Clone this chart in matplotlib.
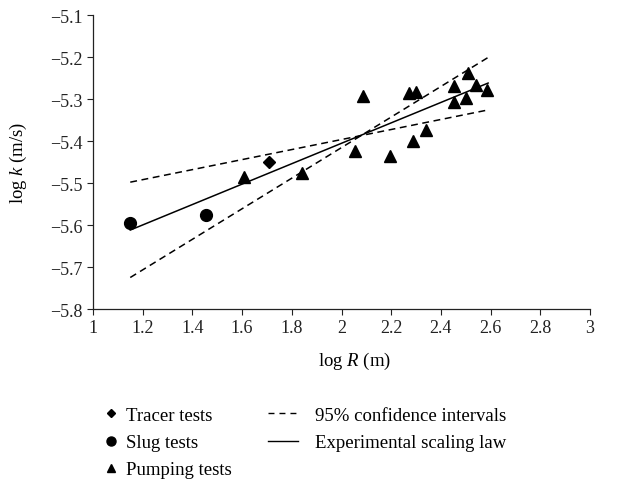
import numpy as np
import matplotlib
matplotlib.use('Agg')
import matplotlib.pyplot as plt
from matplotlib.lines import Line2D

plt.rcParams['font.family'] = 'Liberation Serif'
plt.rcParams['mathtext.fontset'] = 'custom'
plt.rcParams['mathtext.rm'] = 'Liberation Serif'
plt.rcParams['mathtext.it'] = 'Liberation Serif:italic'

# datos
tracer_x = [1.71]
tracer_y = [-5.451]

slug_x = [1.15, 1.454]
slug_y = [-5.595, -5.575]

pump_x = [1.607, 1.842, 2.055, 2.085, 2.194, 2.273, 2.289, 2.298, 2.340,
          2.452, 2.454, 2.502, 2.508, 2.540, 2.587]
pump_y = [-5.486, -5.476, -5.423, -5.292, -5.436, -5.286, -5.401, -5.283, -5.374,
          -5.306, -5.270, -5.297, -5.238, -5.266, -5.278]

line_x = [1.15, 2.59]
fit_y = [-5.612, -5.262]
ci_low_y = [-5.725, -5.201]     # la recta mas empinada
ci_high_y = [-5.498, -5.326]    # la recta mas plana

xtick_labels = ['1', '1.2', '1.4', '1.6', '1.8', '2', '2.2', '2.4', '2.6', '2.8', '3']
ytick_labels = ['\u22125.8', '\u22125.7', '\u22125.6', '\u22125.5', '\u22125.4',
                '\u22125.3', '\u22125.2', '\u22125.1']

fig = plt.figure(figsize=(6.36, 4.81), dpi=100)
ax = fig.add_axes([0.1462, 0.3555, 0.7815, 0.6112])

dash = (0, (4.5, 3))
ax.plot(line_x, ci_low_y, color='black', lw=1.1, linestyle=dash)
ax.plot(line_x, ci_high_y, color='black', lw=1.1, linestyle=dash)
ax.plot(line_x, fit_y, color='black', lw=1.1)

ax.plot(tracer_x, tracer_y, 'D', color='black', ms=6.5, ls='none')
ax.plot(slug_x, slug_y, 'o', color='black', ms=8.5, ls='none')
ax.plot(pump_x, pump_y, '^', color='black', ms=9, ls='none')

ax.set_xlim(1, 3)
ax.set_ylim(-5.8, -5.1)
ax.set_xticks(np.arange(1, 3.01, 0.2))
ax.set_xticklabels(xtick_labels)
ax.set_yticks(np.arange(-5.8, -5.09, 0.1))
ax.set_yticklabels(ytick_labels)
ax.tick_params(labelsize=13, direction='out', length=4, width=0.8, colors='#222222')
for s in ['top', 'right']:
    ax.spines[s].set_visible(False)
for s in ['left', 'bottom']:
    ax.spines[s].set_linewidth(0.9)
    ax.spines[s].set_color('#222222')

ax.set_xlabel('log $R$ (m)', fontsize=13.5)
ax.set_ylabel('log $k$ (m/s)', fontsize=13.5)
ax.xaxis.set_label_coords(0.527, -0.14)
ax.yaxis.set_label_coords(-0.128, 0.5)

# leyenda en dos bloques
h1 = [Line2D([], [], marker='D', color='black', ls='none', ms=4.5),
      Line2D([], [], marker='o', color='black', ls='none', ms=6.5),
      Line2D([], [], marker='^', color='black', ls='none', ms=6)]
l1 = fig.legend(h1, ['Tracer tests', 'Slug tests', 'Pumping tests'],
                loc='upper left', bbox_to_anchor=(0.16, 0.152), frameon=False,
                fontsize=13.5, handlelength=1.0, handletextpad=0.3,
                labelspacing=0.53, borderpad=0, borderaxespad=0)
h2 = [Line2D([], [], color='black', lw=1, linestyle=(0, (4.3, 3.6))),
      Line2D([], [], color='black', lw=1)]
l2 = fig.legend(h2, ['95% confidence intervals', 'Experimental scaling law'],
                loc='upper left', bbox_to_anchor=(0.421, 0.152), frameon=False,
                fontsize=13.5, handlelength=1.6, handletextpad=0.9,
                labelspacing=0.53, borderpad=0, borderaxespad=0)

fig.savefig('out.png', dpi=100)
